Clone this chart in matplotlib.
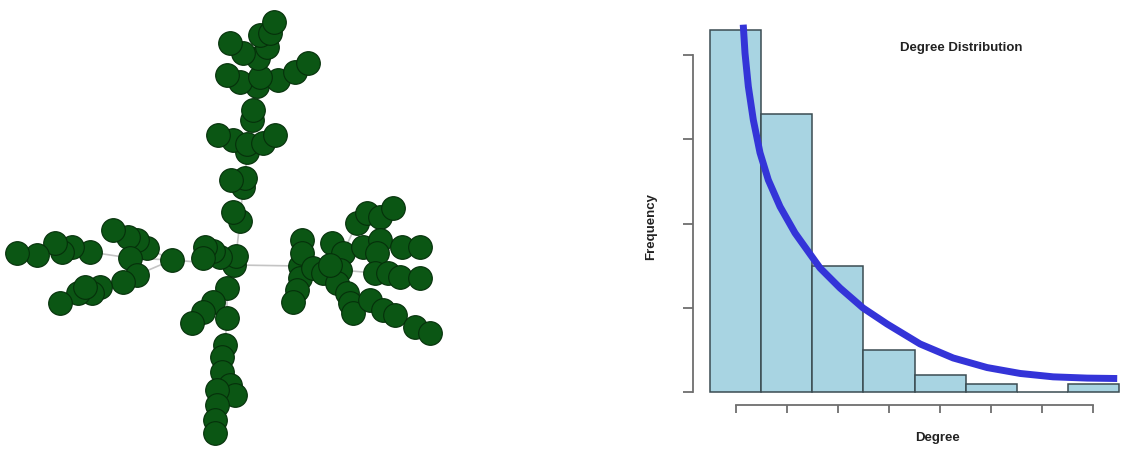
import matplotlib.pyplot as plt

# ---- network (left): node positions in picture units, parent index per node
node_x = [234, 236, 220, 213, 205, 203,
          240, 233, 243, 245, 231, 247, 233, 218, 247, 263, 275, 252, 253, 257,
          240, 227, 278, 295, 308, 260, 258, 243, 230, 267, 260, 270, 274,
          172, 147, 137, 128, 113, 130, 137, 123, 100, 92, 78, 60, 90, 72, 62,
          55, 37, 17, 85,
          227, 213, 203, 192, 227, 225, 222, 222, 230, 235, 217, 217, 215, 215,
          300, 302, 302, 300, 297, 293, 313, 323, 332, 343, 340, 337, 347, 350,
          353, 357, 367, 380, 393, 363, 380, 377, 375, 388, 400, 420, 402, 420,
          370, 383, 395, 415, 430, 330]
node_y = [265, 256, 257, 251, 247, 258,
          221, 212, 187, 178, 180, 152, 140, 135, 144, 143, 135, 120, 110, 86,
          82, 75, 80, 72, 63, 77, 58, 53, 43, 47, 35, 33, 22,
          260, 248, 240, 237, 230, 258, 275, 282, 287, 293, 293, 303, 252, 247,
          252, 243, 255, 253, 287,
          288, 302, 312, 323, 318, 345, 357, 372, 385, 395, 390, 405, 420, 433,
          266, 240, 253, 278, 290, 302, 268, 273, 243, 253, 270, 283, 293, 303,
          313, 223, 213, 217, 208, 247, 240, 253, 273, 273, 277, 278, 247, 247,
          300, 310, 315, 327, 333, 265]
node_parent = [-1, 0, 0, 2, 3, 3,
               1, 6, 6, 8, 9, 9, 11, 12, 11, 11, 15, 11, 17, 18,
               19, 20, 19, 22, 23, 19, 25, 26, 27, 26, 29, 29, 31,
               0, 33, 34, 35, 36, 33, 33, 39, 40, 41, 42, 43, 38, 45, 46,
               46, 47, 49, 41,
               0, 52, 53, 54, 52, 56, 57, 58, 59, 60, 59, 62, 63, 64,
               0, 66, 67, 66, 69, 70, 66, 72, 73, 74, 73, 76, 77, 78,
               79, 75, 81, 82, 83, 75, 85, 86, 76, 88, 89, 90, 87, 92,
               78, 94, 95, 96, 97, 72]

# ---- degree distribution (right)
degrees = [1, 2, 3, 4, 5, 6, 7, 8]
counts = [43, 33, 15, 5, 2, 1, 0, 1]
curve_x = [1.15, 1.185, 1.25, 1.347, 1.478, 1.641, 1.87, 2.163, 2.456, 2.652,
           3.044, 3.494, 3.964, 4.61, 5.256, 5.921, 6.567, 7.212, 7.878, 8.465]
curve_y = [43.6, 40.2, 36.25, 32.3, 28.4, 25.16, 22.0, 18.87, 16.38, 14.72,
           12.34, 9.97, 8.07, 5.7, 4.04, 2.9, 2.2, 1.8, 1.65, 1.6]
freq_ticks = [0, 10, 20, 30, 40]

plt.rcParams['font.family'] = ['Liberation Sans', 'DejaVu Sans']

fig = plt.figure(figsize=(11.39, 4.51), dpi=100)

# network
ax = fig.add_axes([0, 0, 460 / 1139, 1])
for i, p in enumerate(node_parent):
    if p >= 0:
        ax.plot([node_x[p], node_x[i]], [node_y[p], node_y[i]],
                color='#c4c4c4', lw=1.2, zorder=1)
ax.scatter(node_x, node_y, s=290, color='#0b5614', edgecolor='#05300a',
           linewidth=0.8, zorder=2)
ax.set_xlim(0, 460)
ax.set_ylim(451, 0)
ax.axis('off')

# histogram
ax2 = fig.add_axes([710 / 1139, 59 / 451, 409 / 1139, 370.7 / 451])
ax2.bar(degrees, counts, width=1, color='#a8d4e2', edgecolor='#3b4c52',
        linewidth=1.1, clip_on=False, zorder=2)
ax2.plot(curve_x, curve_y, color='#3434d8', lw=5, solid_capstyle='butt',
         solid_joinstyle='round', clip_on=False, zorder=3)
ax2.set_xlim(0.5, 8.5)
ax2.set_ylim(0, 44)
for s in ['top', 'right']:
    ax2.spines[s].set_visible(False)
ax2.spines['left'].set_position(('outward', 12))
ax2.spines['bottom'].set_position(('outward', 9.5))
ax2.spines['left'].set_bounds(0, 40)
ax2.spines['bottom'].set_bounds(1, 8)
for s in ['left', 'bottom']:
    ax2.spines[s].set_color('#6e6e6e')
    ax2.spines[s].set_linewidth(1.3)
ax2.set_yticks(freq_ticks)
ax2.set_xticks(degrees)
ax2.tick_params(axis='both', colors='#6e6e6e', width=1.3, labelleft=False,
                labelbottom=False)
ax2.tick_params(axis='y', length=7)
ax2.tick_params(axis='x', length=6)

fig.text(961 / 1139, 1 - 48 / 451, 'Degree Distribution', ha='center',
         va='center', fontsize=9.5, fontweight='bold', color='#222222')
fig.text(937 / 1139, 1 - 438 / 451, 'Degree', ha='center', va='center',
         fontsize=9.5, fontweight='bold', color='#222222')
fig.text(651 / 1139, 1 - 226 / 451, 'Frequency', ha='center', va='center',
         rotation=90, fontsize=9.5, fontweight='bold', color='#222222')

fig.savefig('out.png', dpi=100)
